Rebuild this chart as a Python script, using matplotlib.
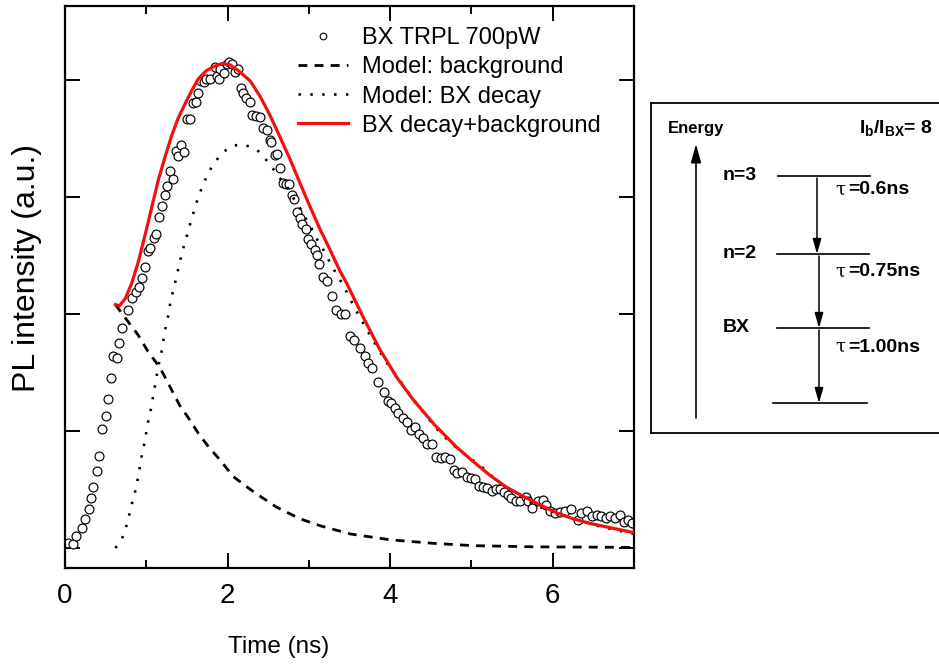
import matplotlib
matplotlib.use("Agg")
import matplotlib.pyplot as plt
from matplotlib.lines import Line2D

plt.rcParams['font.family'] = ['Liberation Sans', 'DejaVu Sans']
plt.rcParams['mathtext.fontset'] = 'custom'
plt.rcParams['mathtext.rm'] = 'Liberation Sans'
plt.rcParams['mathtext.bf'] = 'Liberation Sans:bold'
plt.rcParams['mathtext.it'] = 'Liberation Sans:italic'

# ---------------- data ----------------
t_data = [0.04, 0.10, 0.14, 0.21, 0.25, 0.29, 0.32, 0.35, 0.39, 0.42, 0.46, 0.50, 0.53, 0.56, 0.59,
          0.64, 0.66, 0.70, 0.77, 0.82, 0.87, 0.91, 0.95, 0.98, 1.02, 1.05, 1.09, 1.12, 1.16, 1.19,
          1.23, 1.26, 1.29, 1.33, 1.36, 1.39, 1.43, 1.46, 1.50, 1.54, 1.58, 1.61, 1.64, 1.67, 1.71,
          1.74, 1.78, 1.84, 1.87, 1.89, 1.91, 1.95, 1.99, 2.02, 2.06, 2.09, 2.13, 2.16, 2.19, 2.23,
          2.28, 2.30, 2.35, 2.40, 2.44, 2.48, 2.52, 2.54, 2.58, 2.61, 2.64, 2.68, 2.72, 2.76, 2.79,
          2.82, 2.86, 2.89, 2.92, 2.96, 2.99, 3.03, 3.07, 3.10, 3.13, 3.18, 3.22, 3.28, 3.34, 3.40,
          3.44, 3.51, 3.55, 3.63, 3.69, 3.73, 3.78, 3.85, 3.93, 3.97, 4.01, 4.06, 4.10, 4.16, 4.21,
          4.26, 4.30, 4.36, 4.41, 4.45, 4.51, 4.57, 4.63, 4.67, 4.74, 4.78, 4.82, 4.88, 4.94, 5.00,
          5.04, 5.09, 5.14, 5.19, 5.25, 5.30, 5.35, 5.40, 5.45, 5.49, 5.55, 5.60, 5.67, 5.70, 5.74,
          5.82, 5.88, 5.92, 5.97, 6.03, 6.09, 6.15, 6.23, 6.31, 6.35, 6.42, 6.48, 6.54, 6.60, 6.65,
          6.70, 6.77, 6.83, 6.88, 6.93, 6.98]
pl_data = [0.04, 0.03, 0.10, 0.17, 0.25, 0.33, 0.43, 0.52, 0.66, 0.79, 1.02, 1.13, 1.27, 1.45, 1.64,
           1.62, 1.75, 1.88, 2.03, 2.14, 2.19, 2.23, 2.31, 2.40, 2.54, 2.56, 2.65, 2.68, 2.83, 2.92,
           3.02, 3.09, 3.22, 3.15, 3.39, 3.35, 3.44, 3.38, 3.67, 3.67, 3.80, 3.81, 3.89, 3.99, 3.98,
           4.01, 4.01, 4.11, 4.03, 4.01, 4.09, 4.06, 4.14, 4.15, 4.14, 4.07, 4.09, 3.93, 3.89, 3.85,
           3.81, 3.70, 3.69, 3.68, 3.59, 3.57, 3.49, 3.47, 3.36, 3.37, 3.25, 3.12, 3.11, 3.11, 3.02,
           2.98, 2.87, 2.82, 2.77, 2.73, 2.64, 2.60, 2.55, 2.50, 2.43, 2.32, 2.28, 2.15, 2.03, 2.00,
           2.00, 1.81, 1.78, 1.71, 1.64, 1.58, 1.54, 1.42, 1.33, 1.26, 1.24, 1.20, 1.15, 1.11, 1.08,
           1.01, 1.03, 0.97, 0.94, 0.89, 0.89, 0.78, 0.77, 0.78, 0.76, 0.67, 0.64, 0.65, 0.61, 0.60,
           0.59, 0.53, 0.52, 0.51, 0.49, 0.50, 0.50, 0.48, 0.45, 0.43, 0.40, 0.40, 0.44, 0.40, 0.34,
           0.40, 0.41, 0.37, 0.32, 0.30, 0.31, 0.32, 0.33, 0.24, 0.30, 0.32, 0.27, 0.28, 0.27, 0.26,
           0.27, 0.26, 0.28, 0.22, 0.24, 0.21]

t_bg = [0.62, 0.78, 0.90, 1.02, 1.17, 1.29, 1.41, 1.52, 1.64, 1.76, 1.91, 2.07, 2.32, 2.60, 2.89,
        3.14, 3.51, 4.00, 4.53, 5.02, 5.76, 7.00]
v_bg = [2.08, 1.93, 1.82, 1.68, 1.54, 1.38, 1.22, 1.11, 0.98, 0.87, 0.75, 0.61, 0.48, 0.35, 0.25,
        0.19, 0.12, 0.07, 0.04, 0.02, 0.01, 0.005]

t_bx = [0.62, 0.69, 0.74, 0.78, 0.81, 0.85, 0.88, 0.91, 0.93, 0.96, 0.99, 1.01, 1.04, 1.07, 1.09,
        1.12, 1.14, 1.17, 1.20, 1.22, 1.25, 1.28, 1.30, 1.34, 1.37, 1.41, 1.44, 1.48, 1.52, 1.56,
        1.60, 1.64, 1.69, 1.74, 1.80, 1.87, 1.94, 2.04, 2.15, 2.28, 2.38, 2.46, 2.54, 2.61, 2.69,
        2.75, 2.81, 2.87, 2.93, 2.99, 3.05, 3.10, 3.17, 3.23, 3.29, 3.35, 3.42, 3.47, 3.58, 3.76,
        3.96, 4.13, 4.35, 4.57, 4.74, 4.94, 5.15, 5.40, 5.80, 6.20, 6.60, 7.00]
v_bx = [0.00, 0.06, 0.15, 0.25, 0.35, 0.44, 0.54, 0.64, 0.74, 0.84, 0.94, 1.04, 1.13, 1.23, 1.33,
        1.43, 1.53, 1.62, 1.72, 1.83, 1.92, 2.02, 2.12, 2.22, 2.32, 2.43, 2.53, 2.62, 2.72, 2.82,
        2.91, 3.00, 3.09, 3.17, 3.25, 3.32, 3.38, 3.43, 3.45, 3.43, 3.39, 3.33, 3.26, 3.19, 3.12,
        3.07, 2.99, 2.93, 2.86, 2.78, 2.71, 2.64, 2.56, 2.48, 2.40, 2.33, 2.25, 2.18, 2.03, 1.81,
        1.58, 1.42, 1.21, 1.02, 0.90, 0.79, 0.68, 0.52, 0.36, 0.26, 0.18, 0.12]

t_fit = [0.62, 0.67, 0.74, 0.82, 0.90, 0.98, 1.07, 1.15, 1.23, 1.31, 1.39, 1.48, 1.56, 1.64, 1.74,
         1.85, 1.93, 2.03, 2.15, 2.28, 2.40, 2.52, 2.64, 2.77, 2.89, 3.00, 3.14, 3.26, 3.38, 3.46,
         3.53, 3.67, 3.87, 4.08, 4.28, 4.55, 4.82, 5.02, 5.23, 5.43, 5.64, 5.84, 6.05, 6.25, 6.46,
         6.66, 6.87, 7.00]
v_fit = [2.08, 2.07, 2.13, 2.26, 2.44, 2.66, 2.92, 3.15, 3.34, 3.52, 3.67, 3.80, 3.91, 4.01, 4.08,
         4.12, 4.14, 4.13, 4.07, 3.99, 3.86, 3.70, 3.52, 3.32, 3.12, 2.94, 2.72, 2.55, 2.37, 2.27,
         2.17, 1.97, 1.70, 1.46, 1.27, 1.05, 0.86, 0.74, 0.62, 0.52, 0.44, 0.37, 0.30, 0.25, 0.21,
         0.18, 0.15, 0.13]

x_major = [0, 2, 4, 6]
x_minor = [1, 3, 5]
y_ticks = [0, 1, 2, 3, 4]

series_labels = ['BX TRPL 700pW', 'Model: background', 'Model: BX decay', 'BX decay+background']

level_names = ['n=3', 'n=2', 'BX']
tau_values = ['0.6', '0.75', '1.00']
ratio_text = r'$\mathbf{I_b/I_{BX}}$= 8'

RED = '#f01010'

# ---------------- figure ----------------
fig = plt.figure(figsize=(9.39, 6.70), dpi=100)
ax = fig.add_axes([65 / 939, (670 - 568) / 670, 569 / 939, 562 / 670])

ax.plot(t_data, pl_data, linestyle='none', marker='o', markersize=6.4,
        markerfacecolor='white', markeredgecolor='black', markeredgewidth=0.85, zorder=2)
ax.plot(t_bg, v_bg, color='black', lw=2.0, linestyle=(0, (3.2, 2.6)), zorder=3)
ax.plot(t_bx, v_bx, color='black', lw=1.9, linestyle=(0, (0.9, 3.6)), zorder=3)
ax.plot(t_fit, v_fit, color=RED, lw=2.3, zorder=4)

ax.set_xlim(0, 7)
ax.set_ylim(-0.171, 4.632)
ax.set_xticks(x_major)
ax.set_xticks(x_minor, minor=True)
ax.set_yticks(y_ticks)
ax.set_yticklabels([])
ax.tick_params(axis='both', which='major', direction='in', length=11, width=1.4,
               top=True, right=True, labelsize=20, pad=11)
ax.tick_params(axis='both', which='minor', direction='in', length=6, width=1.4,
               top=True, right=True)
for sp in ax.spines.values():
    sp.set_linewidth(1.6)

ax.set_xlabel('Time (ns)', fontsize=17.5)
ax.xaxis.set_label_coords(0.376, -0.121)
ax.set_ylabel('PL intensity (a.u.)', fontsize=23)
ax.yaxis.set_label_coords(-0.040, 0.534)

handles = [
    Line2D([], [], linestyle='none', marker='o', markersize=4.8, markerfacecolor='white',
           markeredgecolor='black', markeredgewidth=0.8),
    Line2D([], [], color='black', lw=2.0, linestyle=(0, (3.2, 2.6))),
    Line2D([], [], color='black', lw=1.9, linestyle=(0, (0.9, 3.6))),
    Line2D([], [], color=RED, lw=2.3),
]
leg = ax.legend(handles, series_labels, loc='upper left', bbox_to_anchor=((298 - 65) / 569, 0.962),
                frameon=False, fontsize=17, handlelength=2.1, handletextpad=0.6,
                labelspacing=0.3, borderpad=0, borderaxespad=0)

# ---------------- inset level diagram ----------------
ax2 = fig.add_axes([651 / 939, (670 - 433) / 670, (955 - 651) / 939, 330 / 670])
ax2.set_xlim(651, 955)
ax2.set_ylim(433, 103)
ax2.set_xticks([])
ax2.set_yticks([])
for sp in ax2.spines.values():
    sp.set_linewidth(1.3)

ax2.annotate('', xy=(696, 144), xytext=(696, 418),
             arrowprops=dict(arrowstyle='-|>,head_length=0.8,head_width=0.22', lw=1.2,
                             color='black', mutation_scale=14, shrinkA=0, shrinkB=0))
ax2.text(668, 128, 'Energy', fontsize=12, fontweight='bold', ha='left', va='center')
ax2.text(933, 128, ratio_text, fontsize=14, fontweight='bold', ha='right', va='center')

level_y = [176, 254, 328, 403]
level_x0 = [778, 777, 777, 773]
level_x1 = [870, 869, 869, 867]
for y, x0, x1 in zip(level_y, level_x0, level_x1):
    ax2.plot([x0, x1], [y, y], color='black', lw=1.2)
for name, y in zip(level_names, level_y[:3]):
    ax2.text(723, y, name, fontsize=14, fontweight='bold', ha='left', va='center')

arrow_x = [817, 819, 819]
tau_y = [190, 272, 347]
for i, (xa, tv, ty) in enumerate(zip(arrow_x, tau_values, tau_y)):
    ax2.annotate('', xy=(xa, level_y[i + 1]), xytext=(xa, level_y[i] + 2),
                 arrowprops=dict(arrowstyle='-|>,head_length=0.7,head_width=0.2', lw=1.1,
                                 color='black', mutation_scale=13, shrinkA=0, shrinkB=0))
    ax2.text(835, ty, '\u03c4', fontsize=13, family='DejaVu Serif', ha='left', va='center')
    ax2.text(848, ty, '=' + tv + 'ns', fontsize=14, fontweight='bold', ha='left', va='center')

fig.savefig('out.png', dpi=100)
